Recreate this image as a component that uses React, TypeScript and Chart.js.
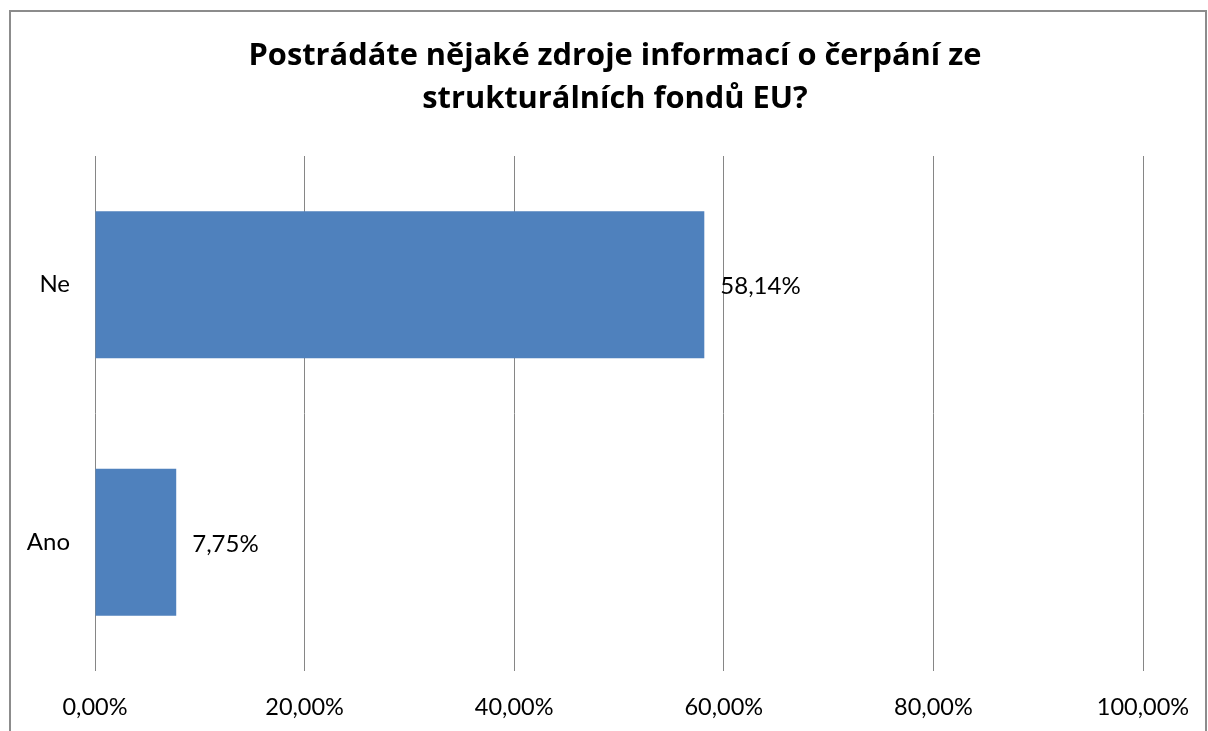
import React, { useEffect, useRef } from "react";
import { Chart, registerables } from "chart.js";

Chart.register(...registerables);

const titleLines = ["Postrádáte nějaké zdroje informací o čerpání ze", "strukturálních fondů EU?"];
const categories = ["Ne", "Ano"];
const values = [58.14, 7.75];
const xTicks = [0, 20, 40, 60, 80, 100];

const FONT = "Lato, 'Open Sans', sans-serif";
const TITLE_FONT = "'Open Sans', Lato, sans-serif";
const fmt = (v: number) => v.toFixed(2).replace(".", ",") + "%";

const decorPlugin = {
  id: "decor",
  beforeDraw(chart: any) {
    const ctx = chart.ctx;
    ctx.save();
    ctx.fillStyle = "#ffffff";
    ctx.fillRect(0, 0, chart.width, chart.height);
    ctx.strokeStyle = "#8c8c8c";
    ctx.lineWidth = 2;
    ctx.strokeRect(10, 11, 1196, 740);
    ctx.fillStyle = "#000";
    ctx.font = `bold 30.8px ${TITLE_FONT}`;
    ctx.textAlign = "center";
    ctx.textBaseline = "middle";
    titleLines.forEach((t, i) => ctx.fillText(t, 615, 56 + i * 43));
    ctx.restore();
  },
  afterDatasetsDraw(chart: any) {
    const ctx = chart.ctx;
    const meta = chart.getDatasetMeta(0);
    ctx.save();
    ctx.fillStyle = "#000";
    ctx.font = `24px ${FONT}`;
    ctx.textAlign = "left";
    ctx.textBaseline = "middle";
    meta.data.forEach((bar: any, i: number) => {
      ctx.fillText(fmt(values[i]), bar.x + 16, bar.y + 2);
    });
    ctx.restore();
  },
};

export default function App() {
  const ref = useRef<HTMLCanvasElement>(null);
  useEffect(() => {
    const chart = new Chart(ref.current!, {
      type: "bar",
      data: {
        labels: categories,
        datasets: [
          {
            data: values,
            backgroundColor: "#4F81BD",
            barPercentage: 0.57,
            categoryPercentage: 1,
          },
        ],
      },
      options: {
        indexAxis: "y",
        animation: false,
        responsive: false,
        layout: { padding: { top: 156, right: 65, left: 0, bottom: 0 } },
        plugins: { legend: { display: false }, tooltip: { enabled: false }, title: { display: false } },
        scales: {
          x: {
            min: 0,
            max: 100,
            afterBuildTicks: (s: any) => {
              s.ticks = xTicks.map((v) => ({ value: v }));
            },
            afterFit: (s: any) => {
              s.height = 60;
              s.paddingLeft = 0;
              s.paddingRight = 0;
            },
            grid: { color: "#868686", lineWidth: 1, drawTicks: false },
            border: { display: false },
            ticks: {
              padding: 22,
              color: "#000",
              font: { family: FONT, size: 23.5 },
              callback: (v: any) => fmt(Number(v)),
            },
          },
          y: {
            afterFit: (s: any) => {
              s.width = 95;
            },
            grid: { display: false, drawTicks: false },
            border: { display: false },
            ticks: { padding: 25, color: "#000", font: { family: FONT, size: 24 } },
          },
        },
      },
      plugins: [decorPlugin],
    });
    return () => chart.destroy();
  }, []);
  return (
    <div style={{ position: "absolute", left: 0, top: 0, width: 1208, height: 731 }}>
      <canvas ref={ref} width={1208} height={731} style={{ width: 1208, height: 731 }} />
    </div>
  );
}
